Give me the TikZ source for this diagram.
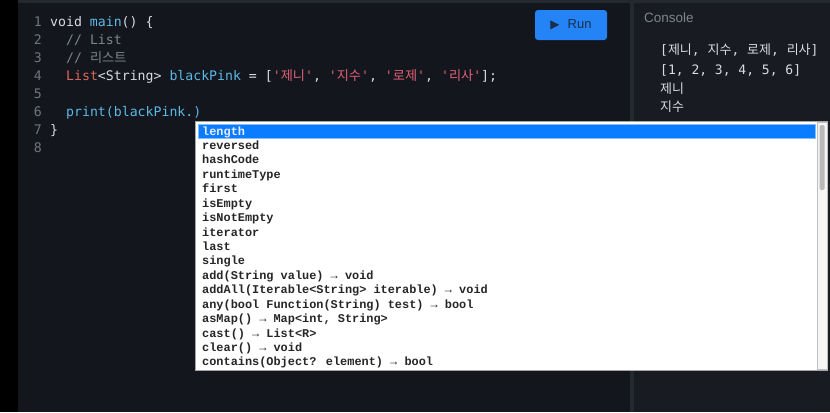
\documentclass[tikz,border=0pt]{standalone}
\usepackage{fontspec}
\setmainfont{Liberation Sans}
\setmonofont{DejaVu Sans Mono}
\newfontfamily\krf{Noto Sans CJK KR}
\newfontfamily\popf{Liberation Mono}
\newfontfamily\symf{DejaVu Sans}
\definecolor{edbg}{HTML}{13161C}
\definecolor{cobg}{HTML}{181B21}
\definecolor{divc}{HTML}{24282F}
\definecolor{lnum}{HTML}{6E7681}
\definecolor{wtxt}{HTML}{D8DCE2}
\definecolor{idc}{HTML}{5CB8E6}
\definecolor{cmt}{HTML}{7D8590}
\definecolor{typc}{HTML}{D9685C}
\definecolor{strc}{HTML}{E0607A}
\definecolor{runb}{HTML}{2484F5}
\definecolor{runt}{HTML}{1A2E4A}
\definecolor{hilite}{HTML}{0A7CFF}
\definecolor{poptxt}{HTML}{262626}
\newcommand{\K}[1]{{\krf #1}}
\begin{document}
\begin{tikzpicture}[x=1bp,y=-1bp,
  codeline/.style={anchor=west,inner sep=0pt,text height=9bp,text depth=3bp,font=\ttfamily\fontsize{13.2bp}{15bp}\selectfont,text=wtxt},
  lnumber/.style={anchor=east,inner sep=0pt,text height=9bp,text depth=3bp,font=\ttfamily\fontsize{13.2bp}{15bp}\selectfont,text=lnum},
  popitem/.style={anchor=west,inner sep=0pt,text height=8bp,text depth=3bp,font=\popf\bfseries\fontsize{11.9bp}{13bp}\selectfont,text=poptxt},
  conline/.style={anchor=west,inner sep=0pt,text height=9bp,text depth=3bp,font=\ttfamily\fontsize{13bp}{15bp}\selectfont,text=wtxt}]
\useasboundingbox (0,0) rectangle (830,412);
% backgrounds
\fill[black] (0,0) rectangle (830,412);
\fill[edbg] (18,0) rectangle (632,412);
\fill[cobg] (634,0) rectangle (830,412);
\fill[divc] (630,0) rectangle (634,412);
\fill[divc] (18,0) rectangle (830,3);
% Run button
\node[fill=runb,rounded corners=3bp,minimum width=72bp,minimum height=30bp,inner sep=0pt,text=runt,font=\fontsize{13bp}{15bp}\selectfont] (run) at (571,25) {{\symf\fontsize{12bp}{13bp}\selectfont ▶}\hspace{8bp}Run};
% Console title
\node[anchor=west,inner sep=0pt,text=cmt,font=\fontsize{13.5bp}{15bp}\selectfont] (contitle) at (644,18) {Console};
% code line numbers
\foreach \i in {1,...,8}{
  \node[lnumber] (ln\i) at (42,{23.5+18*(\i-1)}) {\i};
}
% code
\node[codeline] (c1) at (50,23.5) {void \textcolor{idc}{main}() \{};
\node[codeline] (c2) at (66,41.5) {\textcolor{cmt}{// List}};
\node[codeline] (c3) at (66,59.5) {\textcolor{cmt}{// \K{리스트}}};
\node[codeline] (c4) at (66,77.5) {\textcolor{typc}{List}<String> \textcolor{idc}{blackPink} = [\textcolor{strc}{'\K{제니}'}, \textcolor{strc}{'\K{지수}'}, \textcolor{strc}{'\K{로제}'}, \textcolor{strc}{'\K{리사}'}];};
\node[codeline] (c6) at (66,113.5) {\textcolor{idc}{print(blackPink.)}};
\node[codeline] (c7) at (50,131.5) {\}};
% console output
\node[conline] (o1) at (660,51) {[\K{제니}, \K{지수}, \K{로제}, \K{리사}]};
\node[conline] (o2) at (660,71) {[1, 2, 3, 4, 5, 6]};
\node[conline] (o3) at (660,90) {\K{제니}};
\node[conline] (o4) at (660,108) {\K{지수}};
% popup
\draw[fill=white,draw=gray!70] (195,121) rectangle (827,370);
\draw[fill=hilite,draw=hilite!50] (198,124) rectangle (815,138);
\draw[fill=gray!8,draw=gray!50] (817,122) rectangle (827,369);
\fill[gray!55,rounded corners=1.5bp] (819.5,125) rectangle (824.5,190);
\node[popitem,text=white!92!blue] (p0) at (202,132.5) {length};
\foreach \t [count=\i] in {reversed,hashCode,runtimeType,first,isEmpty,isNotEmpty,iterator,last,single,
  {add(String value) → void},
  {addAll(Iterable<String> iterable) → void},
  {any(bool Function(String) test) → bool},
  {asMap() → Map<int, String>},
  {cast() → List<R>},
  {clear() → void},
  {contains(Object? element) → bool}}{
  \node[popitem] (p\i) at (202,{132.5+14.43*\i}) {\t};
}
\end{tikzpicture}
\end{document}
